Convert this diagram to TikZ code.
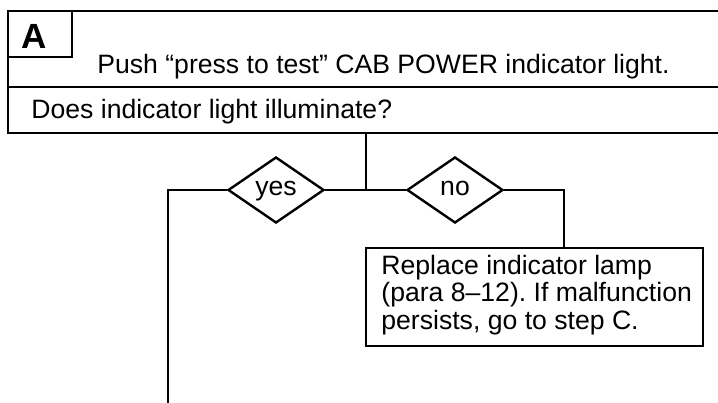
\documentclass[tikz,border=0pt]{standalone}
\usepackage{fontspec}
\setmainfont{Liberation Sans}
\usetikzlibrary{shapes.geometric}
\frenchspacing
\begin{document}
\begin{tikzpicture}[x=0.5pt,y=-0.5pt,
  line/.style={draw=black,line width=1.2pt},
  txt/.style={inner sep=0pt,anchor=base west,font=\fontsize{13.3}{13.75}\selectfont},
  choice/.style={shape=diamond,draw=black,line width=1.2pt,inner sep=0pt,aspect=1.45,
    minimum width=48pt,minimum height=33pt,text height=1ex,text depth=0pt,
    font=\fontsize{13.3}{13.75}\selectfont},
  panel/.style={draw=black,line width=1.2pt,inner sep=0pt}]
\clip (0,0) rectangle (718,402);
\fill[white] (0,0) rectangle (718,402);
% header panel
\node[panel,minimum width=365pt,minimum height=61pt,anchor=north west] (head) at (7,10) {};
\draw[line] (7,87) -- (740,87);
\node[panel,minimum width=32pt,minimum height=23pt,anchor=north west] (abox) at (7,10) {};
\node[inner sep=0pt,anchor=base west,font=\fontsize{17.5}{18}\selectfont\bfseries] (alabel) at (21,48) {A};
\node[txt] (push) at (97,73) {Push “press to test” CAB POWER indicator light.};
\node[txt] (does) at (31,118) {Does indicator light illuminate?};
% decisions
\node[choice] (yes) at (276,190) {yes};
\node[choice] (no) at (455,190) {no};
% action box
\node[panel,minimum width=168.5pt,minimum height=49pt] (rep) at (534.5,297) {};
\node[txt,align=left] (reptxt) at (381,329) {Replace indicator lamp\\(para 8–12). If malfunction\\persists, go to step C.};
% connectors
\coordinate (hq) at (366,132);
\coordinate (jn) at (366,190);
\coordinate (yc) at (168,190);
\coordinate (yb) at (168,410);
\coordinate (nc) at (564,190);
\draw[line] (hq) -- (jn);
\draw[line] (yes.east) -- (no.west);
\draw[line] (yes.west) -- (yc) -- (yb);
\draw[line] (no.east) -- (nc) -- (nc |- rep.north);
\end{tikzpicture}
\end{document}
